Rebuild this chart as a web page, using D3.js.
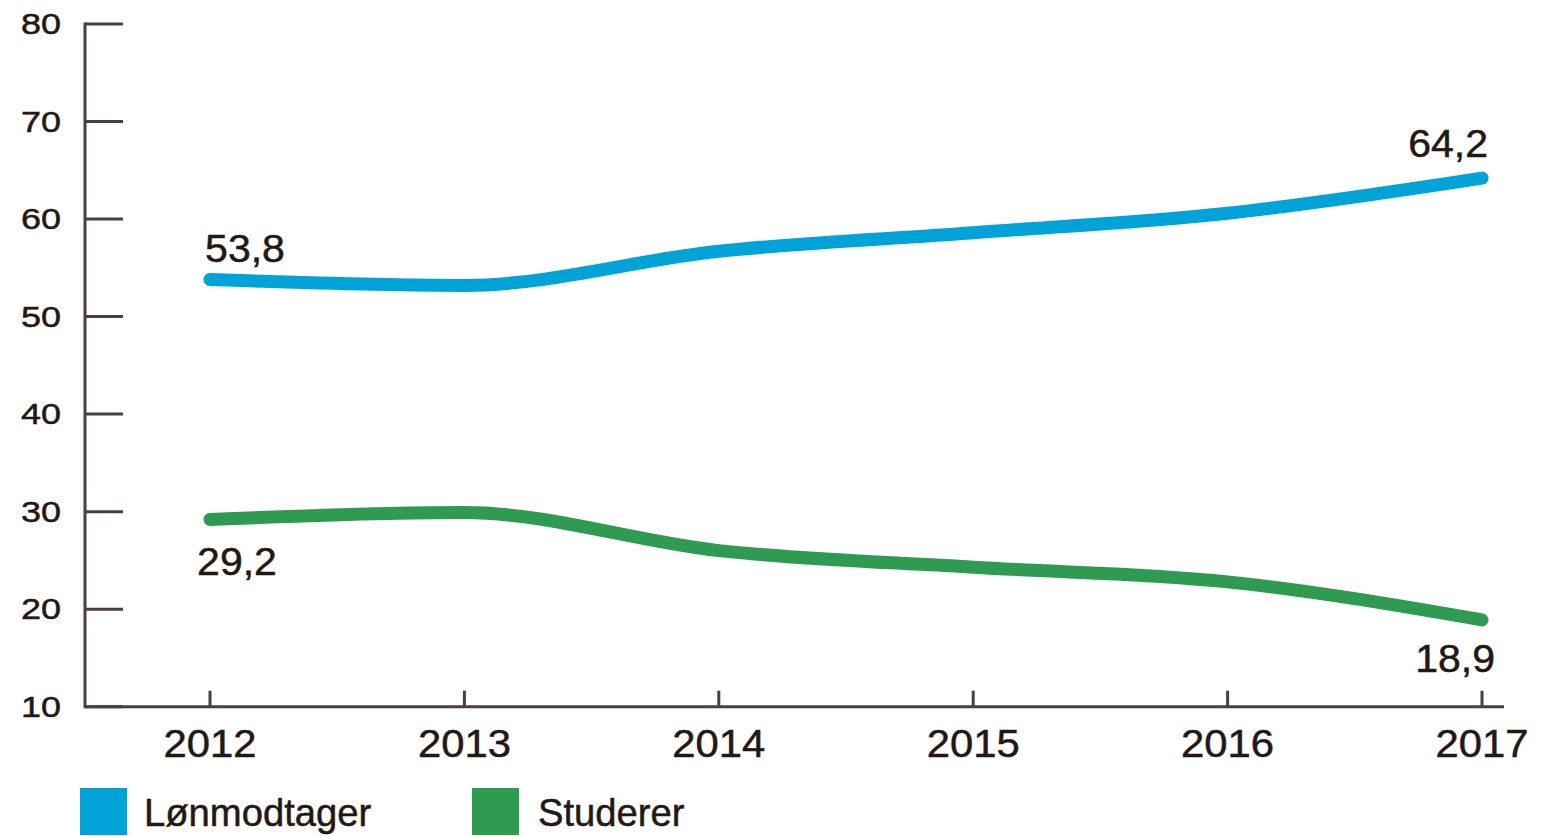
<!DOCTYPE html>
<html>
<head>
<meta charset="utf-8">
<script src="https://cdn.jsdelivr.net/npm/d3@7"></script>
<style>
  html, body { margin: 0; padding: 0; background: #fff; }
  svg { display: block; }
  text { font-family: "Liberation Sans", Arial, sans-serif; fill: #231815; stroke: #231815; stroke-width: 0.5px; }
</style>
</head>
<body>
<svg id="chart" width="1550" height="836"></svg>
<script>
const years = [2012, 2013, 2014, 2015, 2016, 2017];
const lonmodtager = [53.8, 53.2, 56.7, 58.6, 60.6, 64.2];
const studerer = [29.2, 29.9, 26.0, 24.3, 22.8, 18.9];
const yTicks = [10, 20, 30, 40, 50, 60, 70, 80];
const seriesNames = ["Lønmodtager", "Studerer"];
const seriesColors = ["#00a3d8", "#2e9a52"];
const valueLabels = [
  { s: 0, i: 0, text: "53,8", dx: 35, dy: -18, anchor: "middle" },
  { s: 0, i: 5, text: "64,2", dx: 6, dy: -21, anchor: "end" },
  { s: 1, i: 0, text: "29,2", dx: 27, dy: 56, anchor: "middle" },
  { s: 1, i: 5, text: "18,9", dx: 13, dy: 52, anchor: "end" }
];

const svg = d3.select("#chart");
const axisColor = "#4a4039";

const x = d3.scaleLinear().domain([2012, 2017]).range([210, 1482]);
const y = d3.scaleLinear().domain([10, 80]).range([706.7, 24]);

function stretchedText(g, tx, ty, str, size, sx, anchor) {
  return g.append("text")
    .attr("transform", `translate(${tx},${ty}) scale(${sx},1)`)
    .attr("text-anchor", anchor)
    .style("font-size", size + "px")
    .text(str);
}

// Y axis
const yAxis = svg.append("g");
yAxis.append("line").attr("x1", 85).attr("x2", 85).attr("y1", y(80) - 1.5).attr("y2", y(10) + 1.5)
  .attr("stroke", axisColor).attr("stroke-width", 3);
yTicks.forEach(t => {
  yAxis.append("line").attr("x1", 85).attr("x2", 123).attr("y1", y(t)).attr("y2", y(t))
    .attr("stroke", axisColor).attr("stroke-width", 3);
  stretchedText(yAxis, 61, y(t) + 10, String(t), 30, 1.2, "end");
});

// X axis
const xAxis = svg.append("g");
xAxis.append("line").attr("x1", 85).attr("x2", 1504).attr("y1", y(10)).attr("y2", y(10))
  .attr("stroke", axisColor).attr("stroke-width", 3);
years.forEach(yr => {
  xAxis.append("line").attr("x1", x(yr)).attr("x2", x(yr)).attr("y1", y(10)).attr("y2", y(10) - 16)
    .attr("stroke", axisColor).attr("stroke-width", 3);
  stretchedText(xAxis, x(yr), 757, String(yr), 38, 1.1, "middle");
});

// Lines
const line = d3.line().x((d, i) => x(years[i])).y(d => y(d)).curve(d3.curveMonotoneX);
[lonmodtager, studerer].forEach((data, s) => {
  svg.append("path").datum(data)
    .attr("d", line)
    .attr("fill", "none")
    .attr("stroke", seriesColors[s])
    .attr("stroke-width", 13)
    .attr("stroke-linecap", "round")
    .attr("stroke-linejoin", "round");
});

// Value labels
const allSeries = [lonmodtager, studerer];
valueLabels.forEach(l => {
  const v = allSeries[l.s][l.i];
  stretchedText(svg, x(years[l.i]) + l.dx, y(v) + l.dy, l.text, 38, 1.08, l.anchor);
});

// Legend
const legend = svg.append("g");
const legendX = [80, 472];
const legendTextX = [144, 538];
seriesNames.forEach((name, i) => {
  legend.append("rect").attr("x", legendX[i]).attr("y", 788).attr("width", 47).attr("height", 47)
    .attr("fill", seriesColors[i]);
  stretchedText(legend, legendTextX[i], 826, name, 39, 0.98, "start");
});
</script>
</body>
</html>
